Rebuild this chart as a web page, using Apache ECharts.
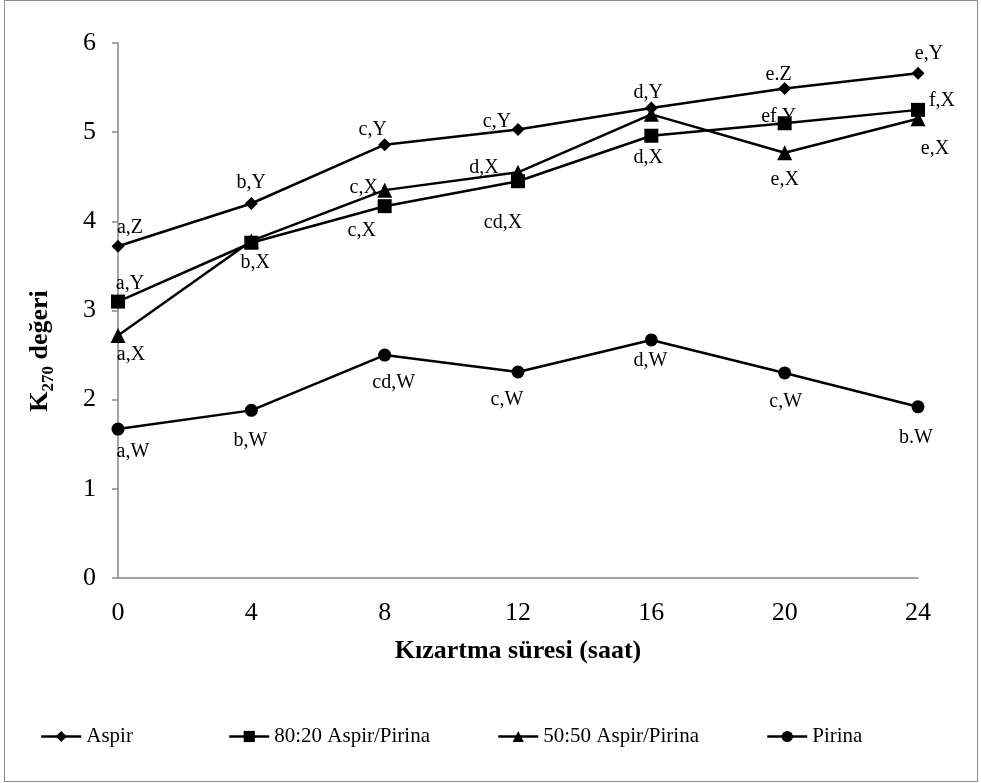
<!DOCTYPE html>
<html>
<head>
<meta charset="utf-8">
<style>
  html, body { margin: 0; padding: 0; background: #fff; }
  #chart { width: 981px; height: 783px; }
</style>
<script src="https://cdn.jsdelivr.net/npm/echarts@6/dist/echarts.min.js"></script>
</head>
<body>
<div id="chart"></div>
<script>
// Frying time (hours)
const hours = [0, 4, 8, 12, 16, 20, 24];
const xTicks = ['0', '4', '8', '12', '16', '20', '24'];

// K270 values per oil
const aspir    = [3.72, 4.20, 4.86, 5.03, 5.27, 5.49, 5.66];
const mix8020  = [3.10, 3.76, 4.17, 4.45, 4.96, 5.10, 5.25];
const mix5050  = [2.72, 3.78, 4.35, 4.55, 5.20, 4.77, 5.15];
const pirina   = [1.67, 1.88, 2.50, 2.31, 2.67, 2.30, 1.92];

// Significance letters for each point
const aspirLetters   = ['a,Z', 'b,Y', 'c,Y', 'c,Y', 'd,Y', 'e.Z', 'e,Y'];
const mix8020Letters = ['a,Y', 'b,X', 'c,X', 'cd,X', 'd,X', 'ef,Y', 'f,X'];
const mix5050Letters = ['a,X', '', 'c,X', 'd,X', '', 'e,X', 'e,X'];
const pirinaLetters  = ['a,W', 'b,W', 'cd,W', 'c,W', 'd,W', 'c,W', 'b.W'];

const seriesNames = ['Aspir', '80:20 Aspir/Pirina', '50:50 Aspir/Pirina', 'Pirina'];

// Label placement: offset of the label centre from the marker centre (px)
const aspirLabelOffset   = [[12,-19],[0,-21],[-12,-15],[-21,-8],[-3,-15],[-6,-14],[11,-20]];
const mix8020LabelOffset = [[12,-18],[4,20],[-23,25],[-15,42],[-3,22],[-6,-7],[24,-9]];
const mix5050LabelOffset = [[13,19],[0,0],[-21,-2],[-34,-5],[0,0],[0,27],[17,30]];
const pirinaLabelOffset  = [[15,23],[-1,30],[9,28],[-11,28],[-1,21],[1,29],[-2,31]];

const SERIF = '"Liberation Serif", "Times New Roman", serif';

function buildData(values, letters, offsets) {
  return hours.map((h, i) => ({
    value: [h, values[i]],
    label: {
      show: letters[i] !== '',
      formatter: letters[i],
      position: 'inside',
      offset: offsets[i]
    }
  }));
}

function lineSeries(name, values, letters, offsets, symbol, size) {
  return {
    name: name,
    type: 'line',
    data: buildData(values, letters, offsets),
    symbol: symbol,
    symbolSize: size,
    showAllSymbol: true,
    lineStyle: { color: '#000', width: 2.5 },
    itemStyle: { color: '#000' },
    label: {
      color: '#000',
      fontFamily: SERIF,
      fontSize: 20
    },
    emphasis: { disabled: true },
    z: 3
  };
}

const chart = echarts.init(document.getElementById('chart'), null, { renderer: 'canvas' });

const legendTop = 721;
const legendLefts = [35, 223, 492, 761];

chart.setOption({
  animation: false,
  backgroundColor: '#fff',
  textStyle: { fontFamily: SERIF },
  grid: { left: 118, right: 63, top: 43, bottom: 205, containLabel: false },
  xAxis: {
    type: 'value',
    min: 0, max: 24, interval: 4,
    axisLine: { show: true, lineStyle: { color: '#868686', width: 1.5 } },
    axisTick: { show: false },
    splitLine: { show: false },
    axisLabel: {
      color: '#000', fontFamily: SERIF, fontSize: 26, margin: 22,
      formatter: v => xTicks[hours.indexOf(v)]
    },
    name: 'Kızartma süresi (saat)',
    nameLocation: 'middle',
    nameGap: 60,
    nameTextStyle: { color: '#000', fontFamily: SERIF, fontSize: 26, fontWeight: 'bold' }
  },
  yAxis: {
    type: 'value',
    min: 0, max: 6, interval: 1,
    axisLine: { show: true, lineStyle: { color: '#868686', width: 1.5 } },
    axisTick: { show: true, inside: false, length: 6, lineStyle: { color: '#868686', width: 1.5 } },
    splitLine: { show: false },
    axisLabel: { color: '#000', fontFamily: SERIF, fontSize: 26, margin: 22 }
  },
  legend: legendLefts.map((left, i) => ({
    data: [seriesNames[i]],
    left: left,
    top: legendTop,
    itemWidth: 40,
    itemHeight: 14,
    itemGap: 4,
    lineStyle: { width: 2.5, color: '#000' },
    itemStyle: { color: '#000' },
    textStyle: { color: '#000', fontFamily: SERIF, fontSize: 21 },
    selectedMode: false
  })),
  graphic: [
    {
      type: 'rect',
      shape: { x: 4.5, y: 0.5, width: 973, height: 781 },
      style: { fill: 'none', stroke: '#8a8a8a', lineWidth: 1 },
      silent: true
    },
    {
      type: 'text',
      x: 40, y: 351,
      rotation: Math.PI / 2,
      style: {
        text: '{k|K}{s|270}{k| değeri}',
        align: 'center',
        verticalAlign: 'middle',
        rich: {
          k: { fontFamily: SERIF, fontSize: 26, fontWeight: 'bold', fill: '#000', lineHeight: 34, verticalAlign: 'middle' },
          s: { fontFamily: SERIF, fontSize: 17, fontWeight: 'bold', fill: '#000', lineHeight: 34, verticalAlign: 'bottom' }
        }
      },
      silent: true
    }
  ],
  series: [
    lineSeries(seriesNames[0], aspir, aspirLetters, aspirLabelOffset, 'diamond', 13),
    lineSeries(seriesNames[1], mix8020, mix8020Letters, mix8020LabelOffset, 'rect', 14),
    lineSeries(seriesNames[2], mix5050, mix5050Letters, mix5050LabelOffset, 'triangle', 15),
    lineSeries(seriesNames[3], pirina, pirinaLetters, pirinaLabelOffset, 'circle', 13)
  ]
});
</script>
</body>
</html>
